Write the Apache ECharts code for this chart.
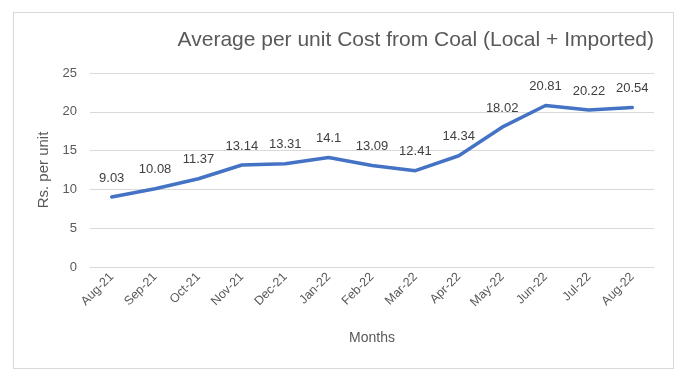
<!DOCTYPE html>
<html>
<head>
<meta charset="utf-8">
<script src="https://cdn.jsdelivr.net/npm/echarts@6/dist/echarts.min.js"></script>
<style>
html,body{margin:0;padding:0;background:#fff;}
#frame{position:absolute;left:13px;top:12px;width:661px;height:357px;border:1px solid #d9d9d9;box-sizing:border-box;}
#chart{position:absolute;left:0;top:0;width:690px;height:382px;}
</style>
</head>
<body>
<div id="frame"></div>
<div id="chart"></div>
<script>
const categories = ['Aug-21','Sep-21','Oct-21','Nov-21','Dec-21','Jan-22','Feb-22','Mar-22','Apr-22','May-22','Jun-22','Jul-22','Aug-22'];
const costValues = [9.03, 10.08, 11.37, 13.14, 13.31, 14.1, 13.09, 12.41, 14.34, 18.02, 20.81, 20.22, 20.54];
const yTicks = { min: 0, max: 25, interval: 5 };

const chart = echarts.init(document.getElementById('chart'), null, { renderer: 'canvas' });
const font = 'Liberation Sans, Arial, sans-serif';
chart.setOption({
  animation: false,
  backgroundColor: 'transparent',
  title: {
    text: 'Average per unit Cost from Coal (Local + Imported)',
    right: 31,
    top: 25,
    textStyle: { fontFamily: font, fontSize: 21, fontWeight: 'normal', color: '#595959' }
  },
  grid: { left: 90, right: 36, top: 73, bottom: 115, containLabel: false },
  xAxis: {
    type: 'category',
    data: categories,
    boundaryGap: true,
    axisLine: { show: true, lineStyle: { color: '#d9d9d9' } },
    axisTick: { show: false },
    axisLabel: { rotate: 45, color: '#595959', fontFamily: font, fontSize: 12.5, margin: 8, interval: 0 },
    name: 'Months',
    nameLocation: 'middle',
    nameGap: 64,
    nameTextStyle: { color: '#595959', fontFamily: font, fontSize: 14 }
  },
  yAxis: {
    type: 'value',
    min: yTicks.min, max: yTicks.max, interval: yTicks.interval,
    axisLine: { show: false },
    axisTick: { show: false },
    splitLine: { lineStyle: { color: '#d9d9d9', width: 1 } },
    axisLabel: { color: '#595959', fontFamily: font, fontSize: 13, margin: 13 },
    name: 'Rs. per unit',
    nameLocation: 'middle',
    nameGap: 37,
    nameTextStyle: { color: '#595959', fontFamily: font, fontSize: 15 }
  },
  series: [{
    type: 'line',
    data: costValues,
    symbol: 'circle',
    symbolSize: 1,
    showSymbol: true,
    itemStyle: { color: 'rgba(68,114,196,0)' },
    smooth: false,
    lineStyle: { color: '#4472C4', width: 3.5, cap: 'round', join: 'round' },
    label: {
      show: true,
      position: 'top',
      distance: 12,
      color: '#404040',
      fontFamily: font,
      fontSize: 13
    }
  }]
});
</script>
</body>
</html>
